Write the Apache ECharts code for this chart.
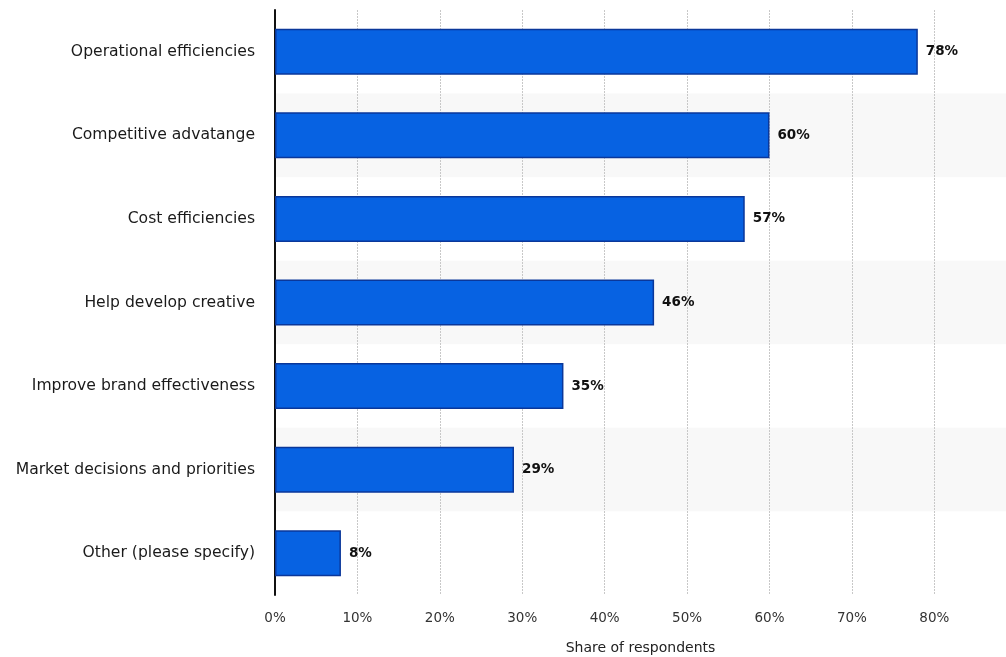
<!DOCTYPE html>
<html>
<head>
<meta charset="utf-8">
<script src="https://cdn.jsdelivr.net/npm/echarts@6/dist/echarts.min.js"></script>
<style>
  html, body { margin: 0; padding: 0; background: #fff; }
  #chart { width: 1006px; height: 657px; }
</style>
</head>
<body>
<div id="chart"></div>
<script>
const categories = [
  "Operational efficiencies",
  "Competitive advatange",
  "Cost efficiencies",
  "Help develop creative",
  "Improve brand effectiveness",
  "Market decisions and priorities",
  "Other (please specify)"
];
const shares = [78, 60, 57, 46, 35, 29, 8];
const tickStep = 10;
const axisTitle = "Share of respondents";

const font = "DejaVu Sans, Verdana, sans-serif";
const chart = echarts.init(document.getElementById("chart"));
chart.setOption({
  animation: false,
  grid: { left: 275, right: 0, top: 10, bottom: 62, outerBoundsMode: "none" },
  xAxis: {
    type: "value",
    min: 0,
    max: 88.7,
    interval: tickStep,
    name: axisTitle,
    nameLocation: "middle",
    nameGap: 46,
    nameTextStyle: { fontFamily: font, fontSize: 14, color: "#222" },
    axisLine: { show: false },
    axisTick: { show: false },
    axisLabel: {
      fontFamily: font,
      fontSize: 13.5,
      color: "#333",
      margin: 16,
      showMaxLabel: false,
      formatter: (v) => v + "%"
    },
    splitLine: { lineStyle: { color: "#c8c8c8", type: [2, 1], width: 1 } }
  },
  yAxis: {
    type: "category",
    data: categories,
    inverse: true,
    axisLine: { show: true, lineStyle: { color: "#111", width: 2 } },
    axisTick: { show: false },
    axisLabel: { fontFamily: font, fontSize: 15.6, color: "#1a1a1a", margin: 20 },
    splitArea: { show: true, areaStyle: { color: ["#ffffff", "#f8f8f8"] } }
  },
  series: [{
    type: "bar",
    data: shares,
    barWidth: 46,
    itemStyle: { color: "#0762e2", borderColor: "#0a379a", borderWidth: 1.5 },
    label: {
      show: true,
      position: "right",
      distance: 8,
      fontFamily: font,
      fontSize: 13.5,
      fontWeight: "bold",
      color: "#111",
      formatter: (p) => p.value + "%"
    }
  }]
});
</script>
</body>
</html>
